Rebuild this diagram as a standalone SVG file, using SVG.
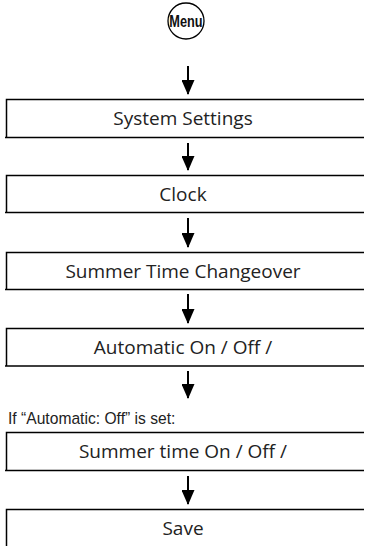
<svg xmlns="http://www.w3.org/2000/svg" width="365" height="546" viewBox="0 0 365 546">
<style>
.box{fill:none;stroke:#000;stroke-width:1.5}
.lbl{font-family:"Open Sans","Noto Sans",sans-serif;font-size:19px;fill:#222;text-anchor:middle}
.cond{font-family:"Liberation Sans",Arial,sans-serif;font-size:17px;fill:#222}
.conn line{stroke:#000;stroke-width:2}
</style>
<defs>
<marker id="ah" markerWidth="15" markerHeight="13" refX="14" refY="6.5" orient="auto" markerUnits="userSpaceOnUse" viewBox="0 0 15 13">
<path d="M0,0 L15,6.5 L0,13 Z" fill="#000"/>
</marker>
</defs>
<g id="menu">
<circle cx="186" cy="21" r="18" fill="#fff" stroke="#000" stroke-width="1.3"/>
<text x="186" y="27" font-family="Liberation Sans, Arial, sans-serif" font-size="17" font-weight="bold" text-anchor="middle" fill="#111" transform="translate(186 0) scale(0.75 1) translate(-186 0)">Menu</text>
</g>
<g id="n1"><path class="box" d="M364,99.5 H6.5 V137.5 M5,137.5 H364"/><text class="lbl" x="183" y="125">System Settings</text></g>
<g id="n2"><path class="box" d="M364,175.5 H6.5 V212.5 M5,212.5 H364"/><text class="lbl" x="183" y="201">Clock</text></g>
<g id="n3"><path class="box" d="M364,252.5 H6.5 V289.5 M5,289.5 H364"/><text class="lbl" x="183" y="278">Summer Time Changeover</text></g>
<g id="n4"><path class="box" d="M364,328.5 H6.5 V366 M5,366 H364"/><text class="lbl" x="183" y="354">Automatic On / Off /</text></g>
<text class="cond" x="8" y="424" transform="translate(8 0) scale(0.92 1) translate(-8 0)">If “Automatic: Off” is set:</text>
<g id="n5"><path class="box" d="M364,432.5 H6.5 V470.5 M5,470.5 H364"/><text class="lbl" x="183" y="458">Summer time On / Off /</text></g>
<g id="n6"><path class="box" d="M364,509.5 H6.5 V547"/><text class="lbl" x="183" y="535">Save</text></g>
<g id="connectors" class="conn">
<line x1="188" y1="66" x2="188" y2="94" marker-end="url(#ah)"/>
<line x1="188" y1="143" x2="188" y2="170" marker-end="url(#ah)"/>
<line x1="188" y1="218" x2="188" y2="247" marker-end="url(#ah)"/>
<line x1="188" y1="294" x2="188" y2="323" marker-end="url(#ah)"/>
<line x1="188" y1="371" x2="188" y2="398" marker-end="url(#ah)"/>
<line x1="188" y1="476" x2="188" y2="504" marker-end="url(#ah)"/>
</g>
</svg>
